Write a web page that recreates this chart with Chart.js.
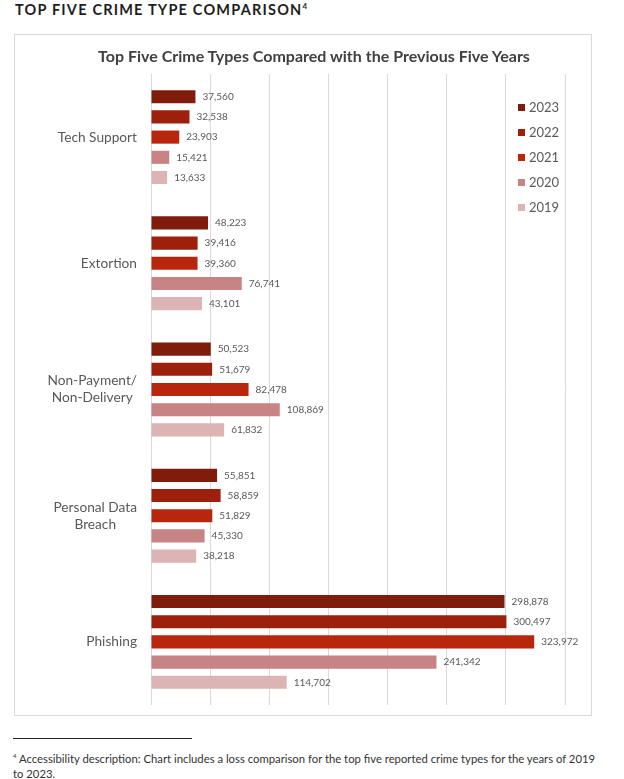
<!DOCTYPE html>
<html>
<head>
<meta charset="utf-8">
<script src="https://cdn.jsdelivr.net/npm/chart.js@4.4.1/dist/chart.umd.min.js"></script>
<style>
  body { margin: 0; background: #fff; width: 624px; height: 779px; position: relative; overflow: hidden; }
  #heading {
    position: absolute; left: 15px; top: 1px;
    font-family: Lato, sans-serif; font-weight: bold; font-size: 14.5px;
    letter-spacing: 1.2px; color: #1e1e1e; white-space: nowrap;
  }
  #heading sup { font-size: 8px; letter-spacing: 0; }
  #box {
    position: absolute; left: 14px; top: 34px; width: 576px; height: 680px;
    border: 1px solid #d9d9d9;
  }
  #chartTitle {
    position: absolute; left: 14px; top: 46px; width: 600px; text-align: center;
    font-family: Lato, sans-serif; font-weight: bold; font-size: 16px; color: #404040;
    white-space: nowrap;
  }
  #rule { position: absolute; left: 13px; top: 738px; width: 179px; height: 1px; background: #222; }
  #note {
    position: absolute; left: 13px; top: 748px; width: 610px;
    font-family: Lato, sans-serif; font-size: 11.3px; line-height: 15px; color: #333;
  }
  #note sup { font-size: 6px; }
</style>
</head>
<body>
<div id="heading">TOP FIVE CRIME TYPE COMPARISON<sup>4</sup></div>
<div id="box"><canvas id="crimeChart" width="576" height="680"></canvas></div>
<div id="chartTitle">Top Five Crime Types Compared with the Previous Five Years</div>
<div id="rule"></div>
<div id="note"><sup>4</sup> Accessibility description: Chart includes a loss comparison for the top five reported crime types for the years of 2019<br>to 2023.</div>
<script>
const categories = ['Tech Support', 'Extortion', ['Non-Payment/', 'Non-Delivery'], ['Personal Data', 'Breach'], 'Phishing'];
const years = ['2023', '2022', '2021', '2020', '2019'];
const v2023 = [37560, 48223, 50523, 55851, 298878];
const v2022 = [32538, 39416, 51679, 58859, 300497];
const v2021 = [23903, 39360, 82478, 51829, 323972];
const v2020 = [15421, 76741, 108869, 45330, 241342];
const v2019 = [13633, 43101, 61832, 38218, 114702];
const colors = ['#7f1c0c', '#9c200c', '#b8260e', '#c88484', '#ddb4b4'];

const series = [v2023, v2022, v2021, v2020, v2019];

// value labels at the end of each bar
const barLabels = {
  id: 'barLabels',
  afterDatasetsDraw(chart) {
    const c = chart.ctx;
    c.save();
    c.font = '10px Lato, sans-serif';
    c.fillStyle = '#595959';
    c.textBaseline = 'middle';
    c.textAlign = 'left';
    chart.data.datasets.forEach((ds, i) => {
      chart.getDatasetMeta(i).data.forEach((bar, j) => {
        c.fillText(ds.data[j].toLocaleString('en-US'), bar.x + 7, bar.y);
      });
    });
    c.restore();
  }
};

// category labels: block right-aligned, lines centred inside the block (Excel style)
const catLabels = {
  id: 'catLabels',
  afterDraw(chart) {
    const c = chart.ctx;
    const y = chart.scales.y;
    c.save();
    c.font = '13.7px Lato, sans-serif';
    c.fillStyle = '#595959';
    c.textAlign = 'center';
    c.textBaseline = 'middle';
    const right = chart.chartArea.left - 14;
    chart.data.labels.forEach((lab, i) => {
      const lines = [].concat(lab);
      const w = Math.max(...lines.map(l => c.measureText(l).width));
      const cy = y.getPixelForTick(i);
      const lh = 17;
      lines.forEach((l, k) => {
        c.fillText(l, right - w / 2, cy + (k - (lines.length - 1) / 2) * lh);
      });
    });
    c.restore();
  }
};

// legend drawn over the plot, top right
const sideLegend = {
  id: 'sideLegend',
  afterDraw(chart) {
    const c = chart.ctx;
    c.save();
    c.font = '13px Lato, sans-serif';
    c.textBaseline = 'middle';
    chart.data.datasets.forEach((ds, i) => {
      const y = 73 + i * 25;
      c.fillStyle = ds.backgroundColor;
      c.fillRect(503, y - 4, 7, 7);
      c.fillStyle = '#595959';
      c.fillText(ds.label, 514, y);
    });
    c.restore();
  }
};

new Chart(document.getElementById('crimeChart'), {
  type: 'bar',
  data: {
    labels: categories,
    datasets: years.map((y, i) => ({
      label: y,
      data: series[i],
      backgroundColor: colors[i],
      barPercentage: 0.65,
      categoryPercentage: 0.8
    }))
  },
  options: {
    indexAxis: 'y',
    responsive: false,
    animation: false,
    layout: { padding: { left: 0, right: 26, top: 39, bottom: 10 } },
    plugins: {
      legend: { display: false },
      tooltip: { enabled: false },
      title: { display: false }
    },
    scales: {
      x: {
        min: 0, max: 350000,
        ticks: { display: false, stepSize: 50000 },
        grid: { color: '#d9d9d9', drawTicks: false },
        border: { display: false },
        afterFit(s) { s.height = 0; }
      },
      y: {
        grid: { display: false, drawTicks: false },
        border: { display: false },
        ticks: { display: false },
        afterFit(s) { s.width = 136; s.paddingTop = 0; s.paddingBottom = 0; }
      }
    }
  },
  plugins: [barLabels, catLabels, sideLegend]
});
</script>
</body>
</html>
